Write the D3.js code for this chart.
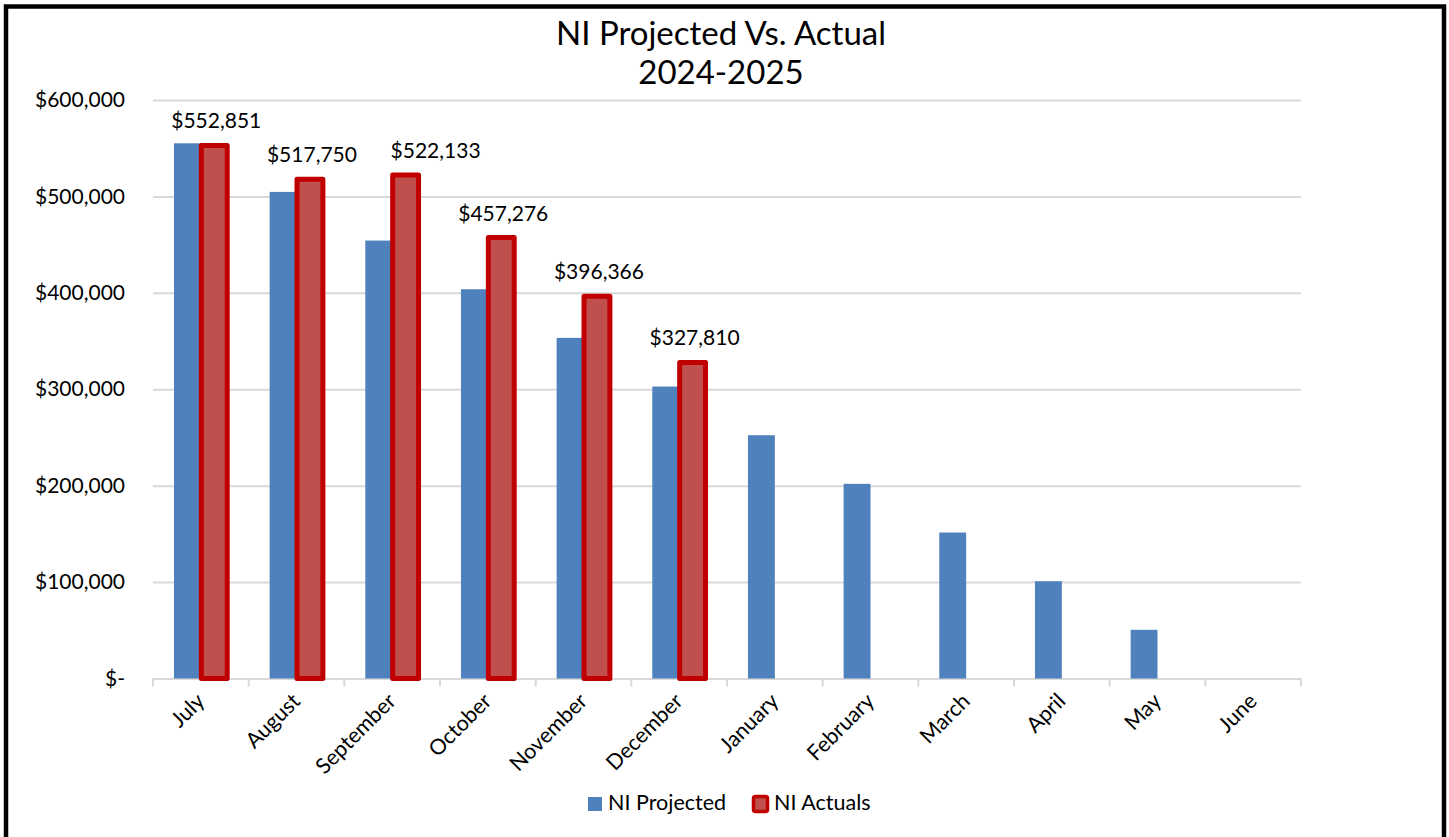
<!DOCTYPE html>
<html>
<head>
<meta charset="utf-8">
<script src="https://cdn.jsdelivr.net/npm/d3@7"></script>
<style>
  body { margin: 0; background: #fff; }
  svg { display: block; font-family: Lato, "Open Sans", sans-serif; }
</style>
</head>
<body>
<svg id="chart"></svg>
<script>
const months = ["July", "August", "September", "October", "November", "December",
  "January", "February", "March", "April", "May", "June"]
const projected = [555100, 504700, 454200, 403700, 353300, 302800,
  252300, 201900, 151400, 100900, 50500, 0]
const actuals = [552851, 517750, 522133, 457276, 396366, 327810]
const seriesNames = ["NI Projected", "NI Actuals"]
const yTicks = [0, 100000, 200000, 300000, 400000, 500000, 600000]
const titleLines = ["NI Projected Vs. Actual", "2024-2025"]

const width = 1449, height = 837
const margin = {top: 100, right: 148, bottom: 158.5, left: 153}
const blue = "#4f81bd", red = "#c0504d", redLine = "#c00000", grid = "#d9d9d9"

const svg = d3.select("#chart")
  .attr("width", width)
  .attr("height", height)

// frame round the whole chart
svg.append("rect")
  .attr("x", 6).attr("y", 6.5)
  .attr("width", 1438).attr("height", 850)
  .attr("fill", "none")
  .attr("stroke", "#000")
  .attr("stroke-width", 4.5)

const x = d3.scaleBand()
  .domain(months)
  .range([margin.left, width - margin.right])

const sub = d3.scaleBand()
  .domain(seriesNames)
  .range([0, x.bandwidth()])
  .paddingOuter(0.78)

const y = d3.scaleLinear()
  .domain([0, 600000])
  .range([height - margin.bottom, margin.top])

// title
svg.append("text")
  .attr("x", 721).attr("y", 45)
  .attr("text-anchor", "middle")
  .attr("font-size", 33)
  .selectAll("tspan")
  .data(titleLines)
  .enter().append("tspan")
  .attr("x", 721)
  .attr("dy", (d, i) => i ? 39 : 0)
  .text(d => d)

// gridlines + y labels
const fmt = d3.format("$,.0f")
const yAxis = svg.append("g")
  .attr("transform", `translate(${margin.left},0)`)
  .call(d3.axisLeft(y)
    .tickValues(yTicks)
    .tickSize(-(width - margin.left - margin.right))
    .tickPadding(28)
    .tickFormat(d => d === 0 ? "$-" : fmt(d)))
yAxis.select(".domain").remove()
yAxis.selectAll(".tick line").attr("stroke", grid).attr("stroke-width", 2)
yAxis.selectAll(".tick text")
  .attr("font-size", 21)
  .attr("font-family", "Lato, sans-serif")
  .attr("fill", "#000")

// category axis with ticks between the categories
const xAxis = svg.append("g")
  .attr("transform", `translate(0,${y(0)})`)
xAxis.selectAll("line.tick")
  .data(months.concat(["end"]))
  .enter().append("line")
  .attr("class", "tick")
  .attr("x1", (d, i) => margin.left + i * x.step())
  .attr("x2", (d, i) => margin.left + i * x.step())
  .attr("y1", 0).attr("y2", 8)
  .attr("stroke", grid).attr("stroke-width", 2)

xAxis.selectAll("text")
  .data(months)
  .enter().append("text")
  .attr("transform", d => `translate(${x(d) + x.bandwidth() / 2 + 5},${24}) rotate(-45)`)
  .attr("text-anchor", "end")
  .attr("font-size", 21.5)
  .text(d => d)

// bars
svg.append("g")
  .selectAll("rect")
  .data(projected)
  .enter().append("rect")
  .attr("x", (d, i) => x(months[i]) + sub(seriesNames[0]))
  .attr("y", d => y(d))
  .attr("width", sub.bandwidth())
  .attr("height", d => y(0) - y(d))
  .attr("fill", blue)

svg.append("g")
  .selectAll("rect")
  .data(actuals)
  .enter().append("rect")
  .attr("x", (d, i) => x(months[i]) + sub(seriesNames[1]) + 0.5)
  .attr("y", d => y(d))
  .attr("width", sub.bandwidth() - 1)
  .attr("height", d => y(0) - y(d))
  .attr("fill", red)
  .attr("stroke", redLine)
  .attr("stroke-width", 5)
  .attr("stroke-linejoin", "round")

// value labels over the actuals (september label was dragged right in the original)
const labelNudge = {September: 28}
svg.append("g")
  .selectAll("text")
  .data(actuals)
  .enter().append("text")
  .attr("x", (d, i) => x(months[i]) + sub(seriesNames[1]) + sub.bandwidth() / 2 + 2 + (labelNudge[months[i]] || 0))
  .attr("y", d => y(d) - 17)
  .attr("text-anchor", "middle")
  .attr("font-size", 21)
  .text(d => fmt(d))

// legend
const legend = svg.append("g")
const legendX = [588, 752]
legend.append("rect")
  .attr("x", legendX[0]).attr("y", 797)
  .attr("width", 14).attr("height", 14)
  .attr("fill", blue)
legend.append("rect")
  .attr("x", legendX[1] + 1.5).attr("y", 796.5)
  .attr("width", 14).attr("height", 15)
  .attr("rx", 2)
  .attr("fill", red)
  .attr("stroke", redLine)
  .attr("stroke-width", 3.5)
legend.selectAll("text")
  .data(seriesNames)
  .enter().append("text")
  .attr("x", (d, i) => legendX[i] + (i ? 22 : 20))
  .attr("y", 810)
  .attr("font-size", 21.5)
  .text(d => d)
</script>
</body>
</html>
